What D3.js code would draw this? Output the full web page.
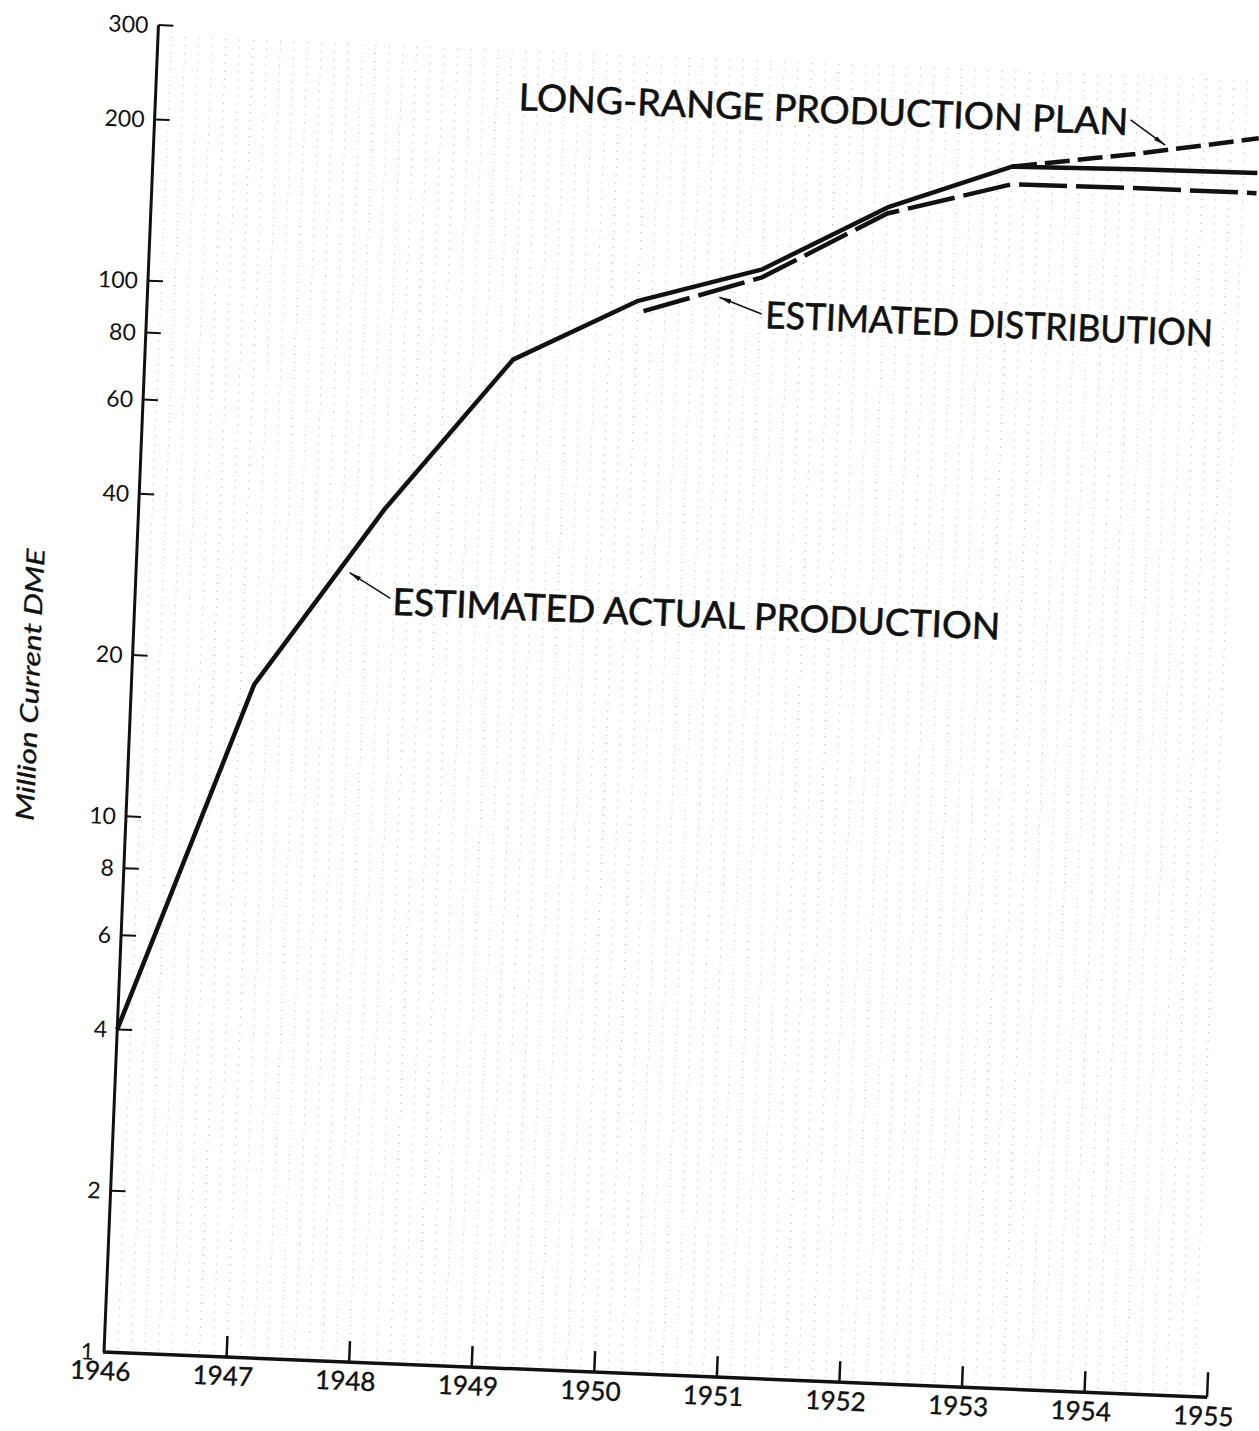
<!DOCTYPE html>
<meta charset="utf-8">
<style type="text/css">
    body { margin: 0; background: #fff; }
    svg { display: block; }
    .tick-label { font-family: Lato, "Liberation Sans", sans-serif; fill: #111; }
    .note { font-family: Lato, "Liberation Sans", sans-serif; fill: #111; stroke: #111; stroke-width: 0.6; }
</style>
<svg id="main-svg"></svg>
<script src="https://cdnjs.cloudflare.com/ajax/libs/d3/7.8.5/d3.min.js"></script>
<script type="text/javascript">
    // values
    var years = [1946, 1947, 1948, 1949, 1950, 1951, 1952, 1953, 1954, 1955];
    var actualValues = [4, 18, 39, 76, 100, 117, 156, 190, 192, 193];
    var distYears = [1950, 1951, 1952, 1953, 1954, 1955];
    var distValues = [95, 113, 152, 176, 177, 177];
    var planYears = [1953, 1954, 1955];
    var planValues = [190, 205, 224];
    var yTicks = [2, 4, 6, 8, 10, 20, 40, 60, 80, 100, 200, 300];
    var yLabels = [1, 2, 4, 6, 8, 10, 20, 40, 60, 80, 100, 200, 300];

    // annotation anchors, in data units [year, value]
    var notes = [
        {text: "LONG-RANGE PRODUCTION PLAN", at: [1948.96, 222], len: 610,
         arrow: [[1953.95, 237], [1954.24, 214]]},
        {text: "ESTIMATED DISTRIBUTION", at: [1951.04, 91], len: 448,
         arrow: [[1951.01, 96.6], [1950.66, 103]]},
        {text: "ESTIMATED ACTUAL PRODUCTION", at: [1948.10, 24.9], len: 608,
         arrow: [[1948.08, 26.7], [1947.74, 29.6]]}
    ];

    var width = 1259, height = 1431;
    var svg = d3.select("#main-svg").attr("width", width).attr("height", height);

    // the scan is tilted a little, so the whole plot is drawn in a rotated frame
    var g = svg.append("g").attr("transform", "translate(104,1352) rotate(2.35)");

    var x = d3.scaleLinear().domain([1946, 1955]).range([0, 1104]);
    var y = d3.scaleLog().domain([1, 300]).range([0, -1328]);

    // faint dotted rulings of the graph paper (9 per year)
    var rulings = d3.range(1, 9 * 9).map(i => 1946 + i / 9);
    g.append("g").selectAll("line").data(rulings).enter().append("line")
        .attr("x1", d => x(d)).attr("x2", d => x(d))
        .attr("y1", y(1) - 4).attr("y2", y(300) + 8)
        .attr("stroke", "#8a8a8a").attr("stroke-width", 1)
        .attr("stroke-dasharray", "1,7").attr("opacity", 0.7);

    // axes
    g.append("line").attr("x1", x(1946)).attr("x2", x(1946)).attr("y1", y(1)).attr("y2", y(300))
        .attr("stroke", "#111").attr("stroke-width", 3);
    g.append("line").attr("x1", x(1946) - 1).attr("x2", x(1955)).attr("y1", y(1)).attr("y2", y(1))
        .attr("stroke", "#111").attr("stroke-width", 3.5);

    g.append("g").selectAll("line").data(yTicks).enter().append("line")
        .attr("x1", x(1946)).attr("x2", x(1946) + 15)
        .attr("y1", d => y(d)).attr("y2", d => y(d))
        .attr("stroke", "#111").attr("stroke-width", 2);

    g.append("g").selectAll("line").data(years.slice(1)).enter().append("line")
        .attr("x1", d => x(d)).attr("x2", d => x(d))
        .attr("y1", y(1)).attr("y2", d => y(1) - (d == 1955 ? 25 : 21))
        .attr("stroke", "#111").attr("stroke-width", 2.5);

    g.append("g").selectAll("text").data(yLabels).enter().append("text")
        .attr("class", "tick-label")
        .attr("x", x(1946) - 10).attr("y", d => y(d)).attr("dy", "0.36em")
        .attr("text-anchor", "end").attr("font-size", 23)
        .text(d => d);

    g.append("g").selectAll("text").data(years).enter().append("text")
        .attr("class", "tick-label")
        .attr("x", d => x(d) - 3).attr("y", y(1) + 28)
        .attr("text-anchor", "middle").attr("font-size", 26)
        .attr("stroke", "#111").attr("stroke-width", 0.4)
        .text(d => d);

    g.append("text")
        .attr("class", "tick-label")
        .attr("transform", "translate(-101," + y(17.3) + ") rotate(-90)")
        .attr("dy", "0.35em")
        .attr("text-anchor", "middle").attr("font-size", 25).attr("font-style", "italic")
        .attr("stroke", "#111").attr("stroke-width", 0.3)
        .attr("textLength", 272).attr("lengthAdjust", "spacingAndGlyphs")
        .text("Million Current DME");

    // series
    var line = d3.line().x(d => x(d[0])).y(d => y(d[1]));

    g.append("path").datum(d3.zip(years, actualValues))
        .attr("d", line).attr("fill", "none").attr("stroke", "#111")
        .attr("stroke-width", 4.5).attr("stroke-linejoin", "round");

    g.append("path").datum(d3.zip(distYears, distValues))
        .attr("d", line).attr("fill", "none").attr("stroke", "#111")
        .attr("stroke-width", 4.5).attr("stroke-dasharray", "48,9")
        .attr("stroke-dashoffset", -6);

    g.append("path").datum(d3.zip(planYears, planValues))
        .attr("d", line).attr("fill", "none").attr("stroke", "#111")
        .attr("stroke-width", 4.5).attr("stroke-dasharray", "25,8");

    // annotations
    svg.append("defs").append("marker")
        .attr("id", "head").attr("viewBox", "0 0 12 6")
        .attr("refX", 12).attr("refY", 3)
        .attr("markerWidth", 12).attr("markerHeight", 6)
        .attr("markerUnits", "userSpaceOnUse").attr("orient", "auto")
        .append("path").attr("d", "M0,0.6 L12,3 L0,5.4 Z").attr("fill", "#111");

    notes.forEach(function (n) {
        g.append("text").attr("class", "note")
            .attr("x", x(n.at[0])).attr("y", y(n.at[1]))
            .attr("font-size", 37)
            .attr("textLength", n.len).attr("lengthAdjust", "spacingAndGlyphs")
            .text(n.text);
        g.append("line")
            .attr("x1", x(n.arrow[0][0])).attr("y1", y(n.arrow[0][1]))
            .attr("x2", x(n.arrow[1][0])).attr("y2", y(n.arrow[1][1]))
            .attr("stroke", "#111").attr("stroke-width", 1.5)
            .attr("marker-end", "url(#head)");
    });
</script>
